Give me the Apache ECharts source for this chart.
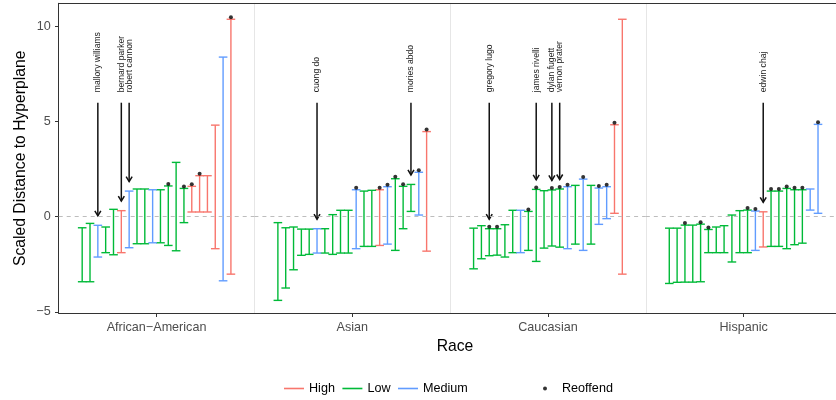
<!DOCTYPE html>
<html>
<head>
<meta charset="utf-8">
<script src="https://cdn.jsdelivr.net/npm/echarts@6/dist/echarts.min.js"></script>
<style>html,body{margin:0;padding:0;background:#fff}#c{width:836px;height:400px}</style>
</head>
<body>
<div id="c"></div>
<script>
// ---------- data ----------
const races = ['African\u2212American', 'Asian', 'Caucasian', 'Hispanic'];
const levels = ['High', 'Low', 'Medium'];
const yTicks = [-5, 0, 5, 10];

const aaLower = [-3.42,-3.42,-2.12,-1.89,-2.00,-1.89,-1.63,-1.42,-1.42,-1.37,-1.37,-1.51,-1.79,-0.31,0.25,0.25,0.25,-1.68,-3.37,-3.02];
const aaUpper = [-0.58,-0.35,-0.45,-0.54,0.39,0.32,1.35,1.46,1.46,1.42,1.42,1.62,2.86,1.49,1.60,2.16,2.16,4.82,8.40,10.39];
const aaRisk = ['Low','Low','Medium','Low','Low','High','Medium','Low','Low','Medium','Low','Low','Low','Low','High','High','High','High','Medium','High'];
const aaReoffend = [0,0,0,0,0,0,0,0,0,0,0,1,0,1,1,1,0,0,0,1];

const asLower = [-4.40,-3.75,-2.79,-2.03,-1.98,-1.91,-1.91,-1.98,-1.91,-1.91,-1.68,-1.56,-1.56,-1.51,-1.44,-1.77,-0.63,0.28,0.09,-1.81];
const asUpper = [-0.31,-0.58,-0.54,-0.65,-0.65,-0.63,-0.63,0.11,0.34,0.34,1.42,1.35,1.39,1.42,1.58,2.00,1.60,1.70,2.34,4.48];
const asRisk = ['Low','Low','Low','Low','Low','Medium','Low','Low','Low','Low','Medium','Low','Low','High','Medium','Low','Low','Low','Medium','High'];
const asReoffend = [0,0,0,0,0,0,0,0,0,0,1,0,0,1,1,1,1,0,1,1];

const caLower = [-2.74,-2.21,-2.05,-2.02,-2.12,-1.89,-1.89,-1.77,-2.35,-1.65,-1.54,-1.60,-1.68,-1.44,-1.77,-1.44,-0.40,-0.10,0.18,-3.02];
const caUpper = [-0.60,-0.47,-0.63,-0.63,-0.42,0.34,0.34,0.28,1.44,1.37,1.41,1.46,1.58,1.65,1.98,1.65,1.51,1.58,4.84,10.39];
const caRisk = ['Low','Low','Low','Low','Low','Low','Medium','Low','Low','Low','Low','Low','Medium','Low','Medium','Low','Medium','Medium','High','High'];
const caReoffend = [0,0,1,1,0,0,0,1,1,0,1,1,1,0,1,0,1,1,1,0];

const hiLower = [-3.51,-3.45,-3.44,-3.44,-3.42,-1.89,-1.89,-1.89,-2.38,-1.89,-1.89,-1.77,-1.59,-1.56,-1.56,-1.68,-1.47,-1.39,0.35,0.18];
const hiUpper = [-0.60,-0.60,-0.44,-0.44,-0.39,-0.67,-0.54,-0.47,0.09,0.32,0.35,0.30,0.26,1.35,1.35,1.49,1.42,1.42,1.46,4.86];
const hiRisk = ['Low','Low','Low','Low','Low','Low','Low','Low','Low','Low','Low','Medium','High','Low','Low','Low','Low','Low','Medium','Medium'];
const hiReoffend = [0,0,1,0,1,1,0,0,0,0,1,1,0,1,1,1,1,1,0,1];

// annotations: name, panel (race index), bar index within panel
const annotNames = ['mallory williams','bernard parker','robert cannon','cuong do','mories abdo','gregory lugo','james rivelli','dylan fugett','vernon prater','edwin chaj'];
const annotPanel = [0,0,0,1,1,2,2,2,2,3];
const annotBar = [2,5,6,5,17,2,8,10,11,12];

// ---------- build ----------
const panels = [
  {lower: aaLower, upper: aaUpper, risk: aaRisk, re: aaReoffend},
  {lower: asLower, upper: asUpper, risk: asRisk, re: asReoffend},
  {lower: caLower, upper: caUpper, risk: caRisk, re: caReoffend},
  {lower: hiLower, upper: hiUpper, risk: hiRisk, re: hiReoffend}
];
const colors = {High: '#F8766D', Low: '#00BA38', Medium: '#619CFF'};
const FONT = 'Liberation Sans, Arial, sans-serif';
const PL = 58.7, PW = 195.7, PT = 3.3, PH = 310, CW = 836;
const XOFF = 3, XMAX = 25, YMIN = -5.08, YMAX = 11.23;

const grids = [], xAxes = [], yAxes = [], series = [];
panels.forEach((p, i) => {
  const left = PL + i * PW;
  // last panel is cut by the canvas edge: keep the same x scale
  const w = Math.min(PW, CW - left);
  const xmax = XMAX * w / PW;
  grids.push({left: left, top: PT, width: w, height: PH, show: false});
  xAxes.push({type: 'value', gridIndex: i, min: 0, max: xmax, position: 'bottom',
    axisLine: {show: true, onZero: false, lineStyle: {color: '#333', width: 1}},
    axisTick: {show: true, customValues: [XMAX / 2], length: 3.7, lineStyle: {color: '#333'}},
    axisLabel: {show: true, customValues: [XMAX / 2], formatter: () => races[i], color: '#4D4D4D', fontSize: 12.6, margin: 8, fontFamily: FONT},
    splitLine: {show: false}});
  xAxes.push({type: 'value', gridIndex: i, min: 0, max: xmax, position: 'top',
    axisLine: {show: true, onZero: false, lineStyle: {color: '#333', width: 1}},
    axisTick: {show: false}, axisLabel: {show: false}, splitLine: {show: false}});
  yAxes.push({type: 'value', gridIndex: i, min: YMIN, max: YMAX, show: true,
    name: i === 0 ? 'Scaled Distance to Hyperplane' : '', nameLocation: 'middle', nameGap: 30,
    nameTextStyle: {fontSize: 15.7, color: '#000', fontFamily: FONT},
    axisLine: {show: true, onZero: false, lineStyle: {color: i === 0 ? '#333' : '#E6E6E6', width: 1}},
    axisTick: {show: i === 0, customValues: yTicks, length: 3.7, lineStyle: {color: '#333'}},
    axisLabel: {show: i === 0, customValues: yTicks, color: '#4D4D4D', fontSize: 12.6, margin: 8, fontFamily: FONT,
      formatter: v => v < 0 ? '\u2212' + Math.abs(v) : String(v)},
    splitLine: {show: false}});
});

panels.forEach((p, i) => {
  const xb = 2 * i; // bottom x axis index of this panel
  // zero reference line
  series.push({type: 'line', xAxisIndex: xb, yAxisIndex: i, data: [], z: 1, silent: true,
    markLine: {silent: true, symbol: 'none', label: {show: false},
      lineStyle: {type: [4, 4], color: '#BDBDBD', width: 1.1},
      data: [{yAxis: 0}]}});
  levels.forEach(lv => {
    const data = [];
    p.lower.forEach((lo, k) => { if (p.risk[k] === lv) data.push([k + XOFF, lo, p.upper[k]]); });
    series.push({type: 'custom', name: lv, xAxisIndex: xb, yAxisIndex: i, z: 2,
      itemStyle: {color: colors[lv]},
      encode: {x: 0, y: [1, 2]},
      data: data,
      renderItem: (params, api) => {
        const x = api.value(0), lo = api.value(1), hi = api.value(2);
        const a = api.coord([x, lo]), b = api.coord([x, hi]);
        const hw = api.size([1, 0])[0] * 0.55;
        const st = {stroke: colors[lv], lineWidth: 1.4};
        return {type: 'group', children: [
          {type: 'line', shape: {x1: a[0], y1: a[1], x2: b[0], y2: b[1]}, style: st},
          {type: 'line', shape: {x1: a[0] - hw, y1: a[1], x2: a[0] + hw, y2: a[1]}, style: st},
          {type: 'line', shape: {x1: b[0] - hw, y1: b[1], x2: b[0] + hw, y2: b[1]}, style: st}
        ]};
      }});
  });
  const dots = [];
  p.upper.forEach((u, k) => { if (p.re[k]) dots.push([k + XOFF, u]); });
  series.push({type: 'scatter', name: 'Reoffend', xAxisIndex: xb, yAxisIndex: i, z: 3,
    symbol: 'circle', symbolSize: 4, symbolOffset: [0, -2],
    itemStyle: {color: '#000'}, data: dots});
  // annotations
  const ann = [];
  annotNames.forEach((nm, j) => {
    if (annotPanel[j] === i) ann.push([annotBar[j] + XOFF, p.upper[annotBar[j]], j]);
  });
  series.push({type: 'custom', name: 'annot', xAxisIndex: xb, yAxisIndex: i, z: 4, silent: true,
    encode: {x: 0, y: 1}, data: ann,
    renderItem: (params, api) => {
      const x = api.value(0), top = api.value(1), j = api.value(2);
      const tip = api.coord([x, top + 0.5]);
      const st = api.coord([x, 6]);
      const tx = api.coord([x, 6.55]);
      const ls = {stroke: '#111', lineWidth: 1.5};
      return {type: 'group', children: [
        {type: 'line', shape: {x1: st[0], y1: st[1], x2: tip[0], y2: tip[1]}, style: ls},
        {type: 'polyline', shape: {points: [[tip[0] - 3, tip[1] - 5], [tip[0], tip[1]], [tip[0] + 3, tip[1] - 5]]}, style: {stroke: '#111', lineWidth: 1.5, fill: null}},
        {type: 'text', x: tx[0], y: tx[1], rotation: Math.PI / 2,
          style: {text: annotNames[j], fontSize: 8.6, fill: '#222', align: 'left', verticalAlign: 'middle', fontFamily: FONT}}
      ]};
    }});
});

const option = {
  animation: false,
  backgroundColor: '#fff',
  textStyle: {fontFamily: FONT},
  title: {text: 'Race', left: 450, textAlign: 'center', top: 334,
    textStyle: {fontSize: 15.7, fontWeight: 'normal', color: '#000', fontFamily: FONT}},
  legend: [
    {data: levels.map(l => ({name: l, icon: 'rect'})), left: 284, top: 382, padding: 0,
      itemWidth: 20, itemHeight: 1.6, itemGap: 7.5, selectedMode: false,
      textStyle: {fontSize: 12.6, color: '#000', fontFamily: FONT}},
    {data: [{name: 'Reoffend', icon: 'circle'}], left: 543, top: 382, padding: 0,
      itemWidth: 24, itemHeight: 4, selectedMode: false,
      textStyle: {fontSize: 12.6, color: '#000', fontFamily: FONT}}
  ],
  grid: grids, xAxis: xAxes, yAxis: yAxes, series: series
};
const chart = echarts.init(document.getElementById('c'), null, {renderer: 'canvas'});
chart.setOption(option);
</script>
</body>
</html>
